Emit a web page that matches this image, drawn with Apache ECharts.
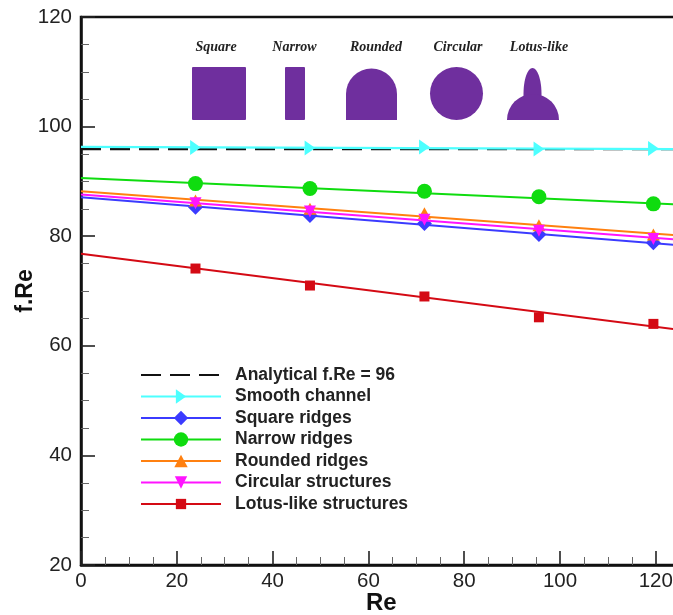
<!DOCTYPE html>
<html><head><meta charset="utf-8">
<style>html,body{margin:0;padding:0;background:#fff;overflow:hidden}#c{width:673px;height:615px}</style>
<script src="https://cdn.jsdelivr.net/npm/echarts@6/dist/echarts.min.js"></script>
</head><body><div id="c"></div>
<script>
const markerRe = [23.9, 47.8, 71.7, 95.6, 119.5];
const lineRe = [0, 124];
const analytical = [95.9, 95.9];
const smoothLine = [96.3, 95.9];
const smoothPts = [96.2, 96.1, 96.3, 95.9, 96.0];
const squareLine = [87.1, 78.4];
const squarePts = [85.3, 83.8, 82.3, 80.3, 78.8];
const narrowLine = [90.6, 85.8];
const narrowPts = [89.6, 88.7, 88.2, 87.2, 85.9];
const roundedLine = [88.2, 80.2];
const roundedPts = [86.5, 85.0, 84.2, 82.0, 80.3];
const circularLine = [87.6, 79.4];
const circularPts = [86.0, 84.5, 83.0, 81.0, 79.5];
const lotusLine = [76.8, 63.0];
const lotusPts = [74.1, 71.0, 69.0, 65.2, 64.0];
const shapeLabels = ['Square', 'Narrow', 'Rounded', 'Circular', 'Lotus-like'];
const xTickMax = 140;

const triRight = 'path://M0,0L0,0M14,14L14,14M2,0L12,7L2,14Z';
const triDown = 'path://M0,0L0,0M14,14L14,14M1,1L13,1L7,13Z';
const triUp = 'path://M0,0L0,0M14,14L14,14M7,1L13.5,13L0.5,13Z';
const paddedRect = 'path://M0,0L0,0M14,14L14,14M2,2L12,2L12,12L2,12Z';
const blankMark = 'path://M0,0L0,0M20,20L20,20';
const defs = [
  {name:'Smooth channel', line:smoothLine, pts:smoothPts, color:'#4dffff', symbol:triRight, size:15, w:2.2},
  {name:'Square ridges', line:squareLine, pts:squarePts, color:'#3b3bff', symbol:'diamond', size:15, w:2},
  {name:'Narrow ridges', line:narrowLine, pts:narrowPts, color:'#0fdc0f', symbol:'circle', size:15, w:2},
  {name:'Rounded ridges', line:roundedLine, pts:roundedPts, color:'#ff8010', symbol:triUp, size:14, w:2},
  {name:'Circular structures', line:circularLine, pts:circularPts, color:'#ff14ff', symbol:triDown, size:14, w:2},
  {name:'Lotus-like structures', line:lotusLine, pts:lotusPts, color:'#d40a14', symbol:paddedRect, size:14, w:2}
];
const pair = a => lineRe.map((x,i)=>[x,a[i]]);
const series = [];
defs.forEach((d,i)=>{
  series.push({type:'line', name:d.name, z:3+i, symbol:d.symbol, symbolSize:d.size,
    itemStyle:{color:d.color}, lineStyle:{color:d.color,width:d.w}, animation:false, silent:true,
    data:pair(d.line).map(v=>({value:v,symbol:'none'}))});
  series.push({type:'scatter', name:d.name+' points', z:3+i, symbol:d.symbol, symbolSize:d.size,
    itemStyle:{color:d.color,opacity:1}, animation:false, silent:true,
    data:markerRe.map((x,k)=>[x,d.pts[k]])});
});
series.unshift({type:'line', name:'Analytical f.Re = 96', z:3, symbol:blankMark, symbolSize:14,
  lineStyle:{color:'#111',width:2.2,type:[20,9]}, itemStyle:{color:'#111'}, animation:false, silent:true,
  data:pair(analytical).map(v=>({value:v,symbol:'none'}))});

const purple='#6f2f9e';
const capX=[216,294.5,376,458,539];
const graphic = shapeLabels.map((t,i)=>({type:'text',x:capX[i],y:47,z:20,silent:true,
  style:{text:t,fill:'#222',align:'center',verticalAlign:'middle',font:'italic bold 14px "Liberation Serif"'}}));
const sty={fill:purple};
const pi=Math.PI;
graphic.push(
 {type:'rect',shape:{x:192,y:67,width:54,height:53,r:1},style:sty,z:20,silent:true},
 {type:'rect',shape:{x:285,y:67,width:20,height:53,r:1},style:sty,z:20,silent:true},
 {type:'circle',shape:{cx:371.5,cy:94,r:25.5},style:sty,z:20,silent:true},
 {type:'rect',shape:{x:346,y:94,width:51,height:26},style:sty,z:20,silent:true},
 {type:'circle',shape:{cx:456.5,cy:93.5,r:26.5},style:sty,z:20,silent:true},
 {type:'ellipse',shape:{cx:532.5,cy:94,rx:9,ry:26},style:sty,z:20,silent:true},
 {type:'sector',shape:{cx:533,cy:120,r:26,r0:0,startAngle:pi,endAngle:2*pi},style:sty,z:20,silent:true}
);

const chart = echarts.init(document.getElementById('c'),null,{renderer:'canvas'});
const axisCommon = {
  axisLine:{show:true,onZero:false,lineStyle:{color:'#111',width:2.5}},
  axisTick:{show:true,inside:true,length:14,lineStyle:{color:'#222',width:1.6}},
  minorTick:{show:true,splitNumber:4,length:8,lineStyle:{color:'#666',width:1}},
  splitLine:{show:false},
  nameMoveOverlap:false,
  axisLabel:{fontFamily:'"Liberation Sans"',fontSize:20.5,color:'#222'}
};
const nameFont={fontFamily:'"Liberation Sans"',fontWeight:'bold',color:'#111'};
chart.setOption({
  animation:false,
  backgroundColor:'#fff',
  grid:{left:81,top:17,width:670.6,height:548,outerBoundsMode:'none',show:true,borderColor:'#111',borderWidth:2.5,backgroundColor:'transparent'},
  xAxis:Object.assign({},axisCommon,{type:'value',min:0,max:xTickMax,interval:20,name:'Re',nameLocation:'middle',nameGap:26,
    nameTextStyle:Object.assign({},nameFont,{fontSize:24,padding:[0,70,0,0]}),
    axisLabel:Object.assign({},axisCommon.axisLabel,{margin:6})}),
  yAxis:Object.assign({},axisCommon,{type:'value',min:20,max:120,interval:20,name:'f.Re',nameLocation:'middle',nameGap:44,
    nameTextStyle:Object.assign({},nameFont,{fontSize:23}),
    axisLabel:Object.assign({},axisCommon.axisLabel,{margin:9})}),
  legend:{show:true,orient:'vertical',left:140,top:366,itemWidth:80,itemHeight:18,itemGap:3.5,selectedMode:false,padding:0,
    data:['Analytical f.Re = 96'].concat(defs.map(d=>d.name)),
    textStyle:{fontFamily:'"Liberation Sans"',fontSize:17.5,fontWeight:'bold',color:'#222',padding:[0,0,0,9]}},
  graphic:graphic,
  series:series
});
</script></body></html>
